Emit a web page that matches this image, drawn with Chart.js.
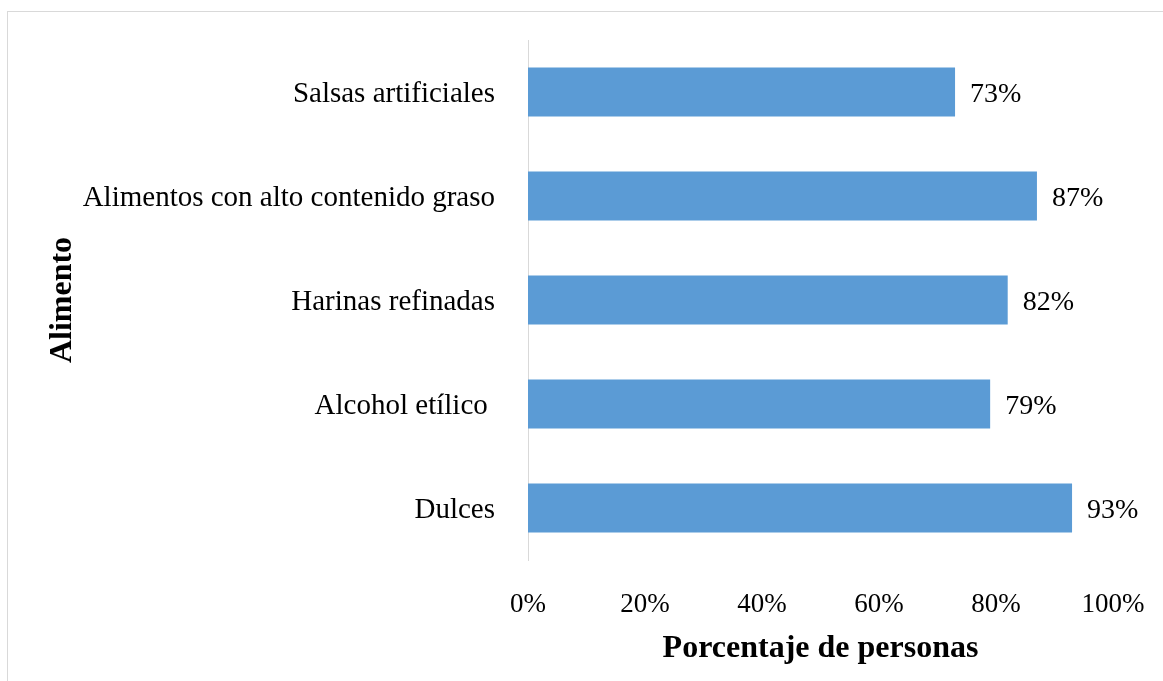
<!DOCTYPE html>
<html>
<head>
<meta charset="utf-8">
<style>
html,body{margin:0;padding:0;background:#fff;}
#wrap{position:relative;width:1163px;height:681px;}
</style>
<script src="https://cdn.jsdelivr.net/npm/chart.js@4/dist/chart.umd.min.js"></script>
</head>
<body>
<div id="wrap"><canvas id="c" width="1163" height="681"></canvas></div>
<script>
const categories = ["Salsas artificiales", "Alimentos con alto contenido graso", "Harinas refinadas", "Alcohol etílico ", "Dulces"];
const values = [73, 87, 82, 79, 93];
const xTicks = [0, 20, 40, 60, 80, 100];
const xTitle = "Porcentaje de personas";
const yTitle = "Alimento";

const FONT = "'Liberation Serif', 'Times New Roman', serif";

const framePlugin = {
  id: 'frame',
  beforeDraw(chart) {
    const ctx = chart.ctx;
    ctx.save();
    ctx.fillStyle = '#fff';
    ctx.fillRect(0, 0, chart.width, chart.height);
    ctx.strokeStyle = '#d9d9d9';
    ctx.lineWidth = 1;
    ctx.strokeRect(7.5, 11.5, 1170, 700);
    ctx.restore();
  }
};

const labelPlugin = {
  id: 'valueLabels',
  afterDatasetsDraw(chart) {
    const ctx = chart.ctx;
    const meta = chart.getDatasetMeta(0);
    ctx.save();
    ctx.font = "28px " + FONT;
    ctx.fillStyle = '#000';
    ctx.textAlign = 'left';
    ctx.textBaseline = 'middle';
    meta.data.forEach((bar, i) => {
      ctx.fillText(values[i] + '%', bar.x + 15, bar.y + 3);
    });
    const ya = chart.scales.y;
    ctx.translate(63, (ya.top + ya.bottom) / 2);
    ctx.rotate(-Math.PI / 2);
    ctx.textAlign = 'center';
    ctx.font = "bold 32px " + FONT;
    ctx.fillText(yTitle, 0, 0);
    ctx.restore();
  }
};

new Chart(document.getElementById('c'), {
  type: 'bar',
  data: {
    labels: categories,
    datasets: [{
      data: values,
      backgroundColor: '#5b9bd5',
      borderWidth: 0,
      barPercentage: 0.47,
      categoryPercentage: 1.0
    }]
  },
  options: {
    indexAxis: 'y',
    responsive: false,
    animation: false,
    devicePixelRatio: 1,
    layout: { padding: { left: 0, top: 40, right: 50, bottom: 0 } },
    plugins: { legend: { display: false }, tooltip: { enabled: false } },
    scales: {
      x: {
        min: 0, max: 100,
        afterBuildTicks(scale) { scale.ticks = xTicks.map(v => ({ value: v })); },
        afterFit(scale) { scale.height = 121; scale.paddingLeft = 0; scale.paddingRight = 0; },
        grid: { display: false, drawTicks: false },
        border: { display: false },
        ticks: {
          color: '#000',
          font: { family: FONT, size: 27 },
          padding: 29,
          callback: v => v + '%'
        },
        title: {
          display: true,
          text: xTitle,
          color: '#000',
          font: { family: FONT, size: 32, weight: 'bold' },
          padding: { top: 4, bottom: 13 }
        }
      },
      y: {
        afterFit(scale) { scale.width = 528; scale.paddingTop = 0; scale.paddingBottom = 0; },
        grid: { display: false, drawTicks: false },
        border: { display: true, color: '#d9d9d9', width: 1 },
        ticks: {
          color: '#000',
          font: { family: FONT, size: 29 },
          padding: 33,
          labelOffset: 2
        }
      }
    }
  },
  plugins: [framePlugin, labelPlugin]
});
</script>
</body>
</html>
